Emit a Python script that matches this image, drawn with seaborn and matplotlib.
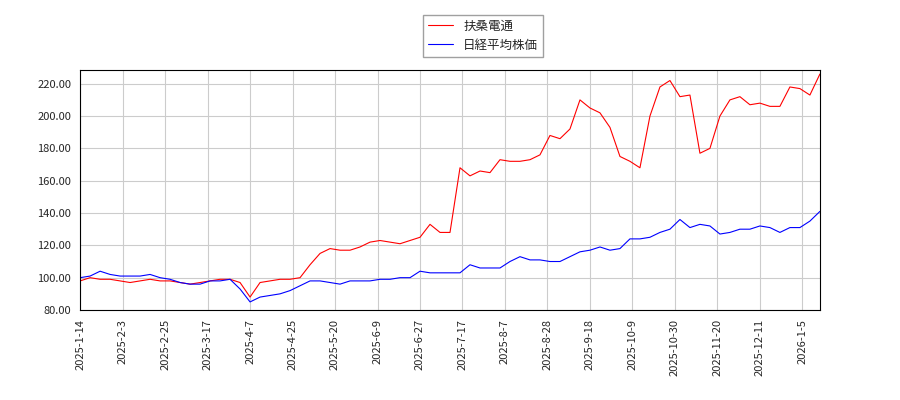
import matplotlib
matplotlib.use("Agg")
import matplotlib.pyplot as plt
import seaborn as sns
import numpy as np

sns.set_style("white")
plt.rcParams['font.family'] = ['Noto Sans CJK JP', 'DejaVu Sans']

tick_labels = ["2025-1-14","2025-2-3","2025-2-25","2025-3-17","2025-4-7","2025-4-25","2025-5-20",
               "2025-6-9","2025-6-27","2025-7-17","2025-8-7","2025-8-28","2025-9-18","2025-10-9",
               "2025-10-30","2025-11-20","2025-12-11","2026-1-5"]
fuso = [98,100,99,99,98,97,98,99,98,98,97,96,97,98,99,99,97,88,97,98,99,99,100,108,115,118,117,117,
        119,122,123,122,121,123,125,133,128,128,168,163,166,165,173,172,172,173,176,188,186,192,210,
        205,202,193,175,172,168,200,218,222,212,213,177,180,200,210,212,207,208,206,206,218,217,213,226]
nikkei = [100,101,104,102,101,101,101,102,100,99,97,96,96,98,98,99,93,85,88,89,90,92,95,98,98,97,96,
          98,98,98,99,99,100,100,104,103,103,103,103,108,106,106,106,110,113,111,111,110,110,113,116,
          117,119,117,118,124,124,125,128,130,136,131,133,132,127,128,130,130,132,131,128,131,131,135,141]
x = np.arange(len(fuso))

fig = plt.figure(figsize=(9, 4), dpi=100)
ax = fig.add_axes([0.089, 0.225, 0.822, 0.6])
sns.lineplot(x=x, y=fuso, ax=ax, color="red", linewidth=0.8, label="扶桑電通")
sns.lineplot(x=x, y=nikkei, ax=ax, color="blue", linewidth=0.8, label="日経平均株価")
ax.set_xlim(0, len(x) - 1)
ax.set_ylim(80, 228.5)
ax.set_yticks(np.arange(80, 221, 20))
ax.set_yticklabels([f"{v:.2f}" for v in np.arange(80, 221, 20)], fontsize=8)
ax.set_xticks([k * 4.25 for k in range(len(tick_labels))])
ax.set_xticklabels(tick_labels, rotation=90, fontsize=8)
ax.grid(True, color="#cccccc", linewidth=0.8)
for s in ax.spines.values():
    s.set_color("black"); s.set_linewidth(0.8)
ax.tick_params(axis="both", length=3, color="black", direction="out")
ax.legend(loc="lower center", bbox_to_anchor=(0.545, 1.055), fontsize=9, frameon=True,
          fancybox=False, edgecolor="#888888", borderaxespad=0)
fig.savefig("out.png")
